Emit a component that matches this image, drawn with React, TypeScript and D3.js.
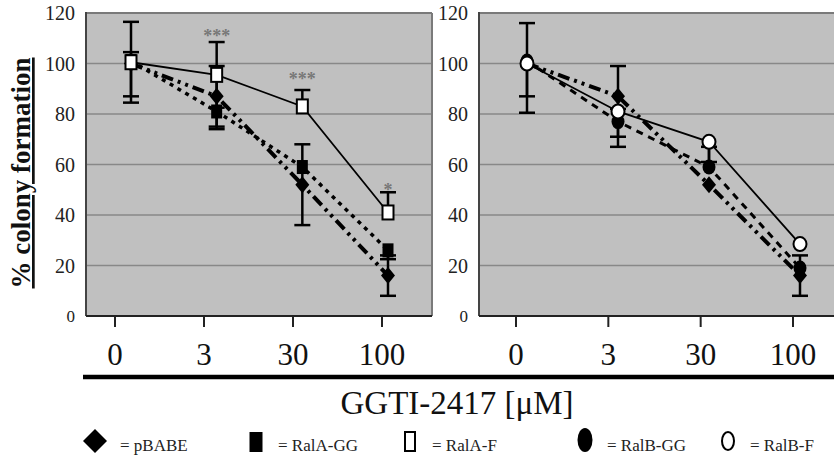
import React from "react";
import * as d3 from "d3";

// dose categories (x axis)
const doses = ["0", "3", "30", "100"];
const yTicks = [0, 20, 40, 60, 80, 100, 120];

// left panel (RalA)
const pBabeA = [100, 87, 52, 16];
const pBabeAUp = [0, 12, 16, 8];
const pBabeADown = [13, 12, 16, 8];
const ralAGG = [101, 81, 59, 26];
const ralAGGUp = [3.5, 0, 0, 0];
const ralAGGDown = [0, 7, 0, 3.5];
const ralAF = [100.5, 95.5, 83, 41];
const ralAFUp = [16, 13, 6.5, 8];
const ralAFDown = [16, 13, 0, 0];
const sigLabels = ["", "***", "***", "*"];
const sigLevel = [0, 112, 95, 51];

// right panel (RalB)
const pBabeB = [100, 87, 52, 16];
const pBabeBUp = [0, 12, 0, 8];
const pBabeBDown = [13, 16, 0, 8];
const ralBGG = [101, 77, 59, 19];
const ralBGGUp = [15, 5, 8, 0];
const ralBGGDown = [20.5, 10, 0, 0];
const ralBF = [100, 81, 69, 28.5];
const ralBFUp = [0, 0, 0, 0];
const ralBFDown = [0, 0, 8, 0];

const legendItems = [
  { shape: "diamond", label: "= pBABE" },
  { shape: "square", label: "= RalA-GG" },
  { shape: "openSquare", label: "= RalA-F" },
  { shape: "circle", label: "= RalB-GG" },
  { shape: "openCircle", label: "= RalB-F" },
];

const FONT = "'Liberation Serif', 'Times New Roman', serif";
const TOP = 13;
const BOTTOM = 316;

const yScale = d3.scaleLinear().domain([0, 120]).range([BOTTOM, TOP]);

const STYLES: Record<string, { width: number; dash?: string; cap?: string }> = {
  solid: { width: 1.8 },
  dashdot: { width: 4, dash: "12,5,3,5,3,5" },
  dotted: { width: 3.5, dash: "4,5" },
  dashed: { width: 3, dash: "7,6" },
};

function Marker({ shape, x, y, scale = 1 }: { shape: string; x: number; y: number; scale?: number }) {
  const s = scale;
  if (shape === "diamond") {
    const w = 7 * s, h = 8.5 * s;
    return <path d={`M${x},${y - h}L${x + w},${y}L${x},${y + h}L${x - w},${y}Z`} fill="#000" />;
  }
  if (shape === "square") {
    return <rect x={x - 5.5 * s} y={y - 7 * s} width={11 * s} height={14 * s} fill="#000" />;
  }
  if (shape === "openSquare") {
    return <rect x={x - 5.5 * s} y={y - 7 * s} width={11 * s} height={14 * s} fill="#fff" stroke="#000" strokeWidth={2} />;
  }
  if (shape === "circle") {
    return <ellipse cx={x} cy={y} rx={6.5 * s} ry={7.5 * s} fill="#000" />;
  }
  return <ellipse cx={x} cy={y} rx={6.5 * s} ry={7 * s} fill="#fff" stroke="#000" strokeWidth={2} />;
}

type Series = { vals: number[]; up: number[]; down: number[]; shape: string; style: string };

function Panel({ x0, x1, tickRange, dataRange, series, rightBorder, sig }: {
  x0: number; x1: number; tickRange: [number, number]; dataRange: [number, number];
  series: Series[]; rightBorder: boolean; sig: boolean;
}) {
  const tickX = d3.scalePoint<string>().domain(doses).range(tickRange);
  const dataX = d3.scalePoint<string>().domain(doses).range(dataRange);
  const line = d3.line<number>().x((_, i) => dataX(doses[i])!).y((d) => yScale(d));

  return (
    <g>
      <rect x={x0} y={TOP} width={x1 - x0} height={BOTTOM - TOP} fill="#c0c0c0" />
      {yTicks.filter((t) => t > 0 && t < 120).map((t) => (
        <line key={t} x1={x0} x2={x1} y1={yScale(t)} y2={yScale(t)} stroke="#888" strokeWidth={1.5} />
      ))}
      <line x1={x0} x2={x1} y1={TOP} y2={TOP} stroke="#7a7a7a" strokeWidth={2} />
      {rightBorder && <line x1={x1} x2={x1} y1={TOP} y2={BOTTOM} stroke="#7a7a7a" strokeWidth={2} />}
      <line x1={x0} x2={x0} y1={TOP - 1} y2={BOTTOM} stroke="#444" strokeWidth={2} />
      <line x1={x0} x2={x1} y1={BOTTOM} y2={BOTTOM} stroke="#222" strokeWidth={2} />

      {yTicks.map((t) => (
        <text key={t} x={x0 - 11} y={yScale(t)} dy="0.35em" textAnchor="end"
          fontFamily={FONT} fontSize={t === 0 ? 17 : 20} fill="#222">{t}</text>
      ))}
      {doses.map((d) => (
        <g key={d}>
          <line x1={tickX(d)} x2={tickX(d)} y1={BOTTOM} y2={BOTTOM + 11} stroke="#222" strokeWidth={2} />
          <text x={tickX(d)} y={365} textAnchor="middle" fontFamily={FONT} fontSize={31} fill="#111">{d}</text>
        </g>
      ))}

      {series.map((s, i) => {
        const st = STYLES[s.style];
        return (
          <path key={i} d={line(s.vals)!} fill="none" stroke="#000" strokeWidth={st.width}
            strokeDasharray={st.dash} />
        );
      })}
      {series.map((s, i) => (
        <g key={i}>
          {s.vals.map((v, j) => {
            const cx = dataX(doses[j])!;
            const hi = v + s.up[j];
            const lo = v - s.down[j];
            return (
              <g key={j} stroke="#000" strokeWidth={2.5}>
                {s.up[j] > 0 && <line x1={cx} x2={cx} y1={yScale(v)} y2={yScale(hi)} />}
                {s.up[j] > 0 && <line x1={cx - 8} x2={cx + 8} y1={yScale(hi)} y2={yScale(hi)} />}
                {s.down[j] > 0 && <line x1={cx} x2={cx} y1={yScale(v)} y2={yScale(lo)} />}
                {s.down[j] > 0 && <line x1={cx - 8} x2={cx + 8} y1={yScale(lo)} y2={yScale(lo)} />}
              </g>
            );
          })}
        </g>
      ))}
      {series.map((s, i) => (
        <g key={i}>
          {s.vals.map((v, j) => (
            <Marker key={j} shape={s.shape} x={dataX(doses[j])!} y={yScale(v)} />
          ))}
        </g>
      ))}
      {sig && sigLabels.map((lab, j) => lab && (
        <text key={j} x={dataX(doses[j])!} y={yScale(sigLevel[j]) + 9} textAnchor="middle"
          fontFamily={FONT} fontSize={18} fontWeight="bold" fill="#777">{lab}</text>
      ))}
    </g>
  );
}

export default function App() {
  const left: Series[] = [
    { vals: pBabeA, up: pBabeAUp, down: pBabeADown, shape: "diamond", style: "dashdot" },
    { vals: ralAGG, up: ralAGGUp, down: ralAGGDown, shape: "square", style: "dotted" },
    { vals: ralAF, up: ralAFUp, down: ralAFDown, shape: "openSquare", style: "solid" },
  ];
  const right: Series[] = [
    { vals: pBabeB, up: pBabeBUp, down: pBabeBDown, shape: "diamond", style: "dashdot" },
    { vals: ralBGG, up: ralBGGUp, down: ralBGGDown, shape: "circle", style: "dashed" },
    { vals: ralBF, up: ralBFUp, down: ralBFDown, shape: "openCircle", style: "solid" },
  ];
  const legendX = d3.scaleOrdinal<string, number>()
    .domain(legendItems.map((d) => d.label))
    .range([95, 256, 410, 585, 728]);

  return (
    <svg width={834} height={455} style={{ position: "absolute", left: 0, top: 0, background: "#fff" }}>
      <Panel x0={86} x1={432} tickRange={[115, 382]} dataRange={[131, 388]} series={left} rightBorder sig />
      <Panel x0={479} x1={834} tickRange={[516, 793]} dataRange={[527, 800]} series={right} rightBorder={false} sig={false} />

      <text transform="translate(30,173) rotate(-90)" textAnchor="middle" fontFamily={FONT}
        fontSize={27} fontWeight="bold" textDecoration="underline" fill="#111">% colony formation</text>

      <line x1={83} x2={834} y1={377} y2={377} stroke="#000" strokeWidth={4.5} />
      <text x={457} y={414} textAnchor="middle" fontFamily={FONT} fontSize={33} fill="#111">GGTI-2417 [μM]</text>

      {legendItems.map((d) => {
        const lx = legendX(d.label);
        return (
          <g key={d.label}>
            {d.shape === "diamond" && <path d={`M${lx},${429}L${lx + 12},${441}L${lx},${453}L${lx - 12},${441}Z`} fill="#000" />}
            {d.shape === "square" && <rect x={lx - 6.5} y={432} width={13} height={20} fill="#000" />}
            {d.shape === "openSquare" && <rect x={lx - 5} y={432} width={10} height={19} fill="#fff" stroke="#000" strokeWidth={2} />}
            {d.shape === "circle" && <ellipse cx={lx} cy={440} rx={7.5} ry={12} fill="#000" />}
            {d.shape === "openCircle" && <ellipse cx={lx} cy={441} rx={6} ry={9} fill="#fff" stroke="#000" strokeWidth={2} />}
            <text x={lx + (d.shape === "diamond" ? 25 : 22)} y={451} fontFamily={FONT} fontSize={17} fill="#222">{d.label}</text>
          </g>
        );
      })}
    </svg>
  );
}
